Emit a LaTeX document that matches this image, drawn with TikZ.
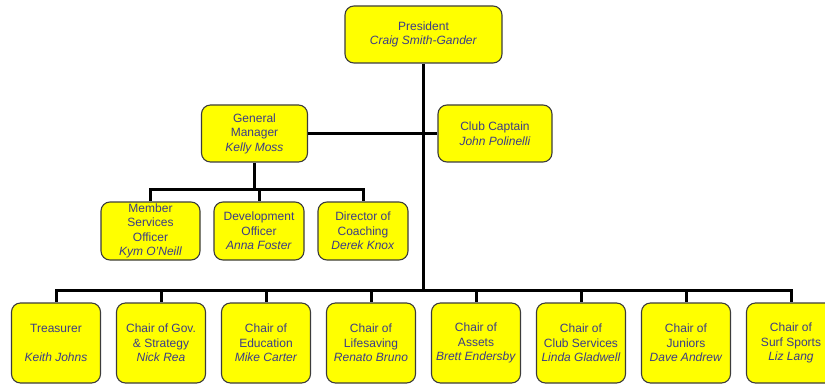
\documentclass[tikz,border=0pt]{standalone}
\usepackage{fontspec}
\setmainfont{Liberation Sans}
\definecolor{txt}{RGB}{60,60,135}
\definecolor{boxfill}{RGB}{255,255,0}
\definecolor{boxline}{RGB}{60,60,60}
\tikzset{
  orgbox/.style={draw=boxline, line width=1.1pt, fill=boxfill, rounded corners=9pt,
    align=center, text=txt, inner sep=0pt,
    font=\fontsize{12pt}{14.5pt}\selectfont},
  conn/.style={line width=3pt, black}
}
\begin{document}
\begin{tikzpicture}[x=1pt,y=-1pt]
\useasboundingbox (0,0) rectangle (825,385);
% nodes
\node[orgbox, minimum width=157pt, minimum height=57pt] (pres) at (423.5,34.5) {President\\\textit{Craig Smith-Gander}};
\node[orgbox, minimum width=106pt, minimum height=57pt] (gm) at (254.5,133.5) {General\\Manager\\\textit{Kelly Moss}};
\node[orgbox, minimum width=114pt, minimum height=57pt] (cc) at (495,133.5) {Club Captain\\\textit{John Polinelli}};
\node[orgbox, minimum width=99pt, minimum height=58pt] (m1) at (150.5,231) {Member\\Services\\Officer\\\textit{Kym O'Neill}};
\node[orgbox, minimum width=90pt, minimum height=58pt] (m2) at (259,231) {Development\\Officer\\\textit{Anna Foster}};
\node[orgbox, minimum width=90pt, minimum height=58pt] (m3) at (363,231) {Director of\\Coaching\\\textit{Derek Knox}};
\tikzset{bot/.style={orgbox, minimum width=89pt, minimum height=80pt}}
\node[bot] (b1) at (56,343) {Treasurer\\\mbox{}\\\textit{Keith Johns}};
\node[bot] (b2) at (161,343) {Chair of Gov.\\\& Strategy\\\textit{Nick Rea}};
\node[bot] (b3) at (266,343) {Chair of\\Education\\\textit{Mike Carter}};
\node[bot] (b4) at (371,343) {Chair of\\Lifesaving\\\textit{Renato Bruno}};
\node[bot] (b5) at (476,343) {Chair of\\Assets\\\textit{Brett Endersby}};
\node[bot] (b6) at (581,343) {Chair of\\Club Services\\\textit{Linda Gladwell}};
\node[bot] (b7) at (686,343) {Chair of\\Juniors\\\textit{Dave Andrew}};
\node[bot] (b8) at (791,343) {Chair of\\Surf Sports\\\textit{Liz Lang}};
% connectors
\coordinate (jb) at (423.5,290);
\coordinate (jm) at (254.5,190);
\draw[conn] (pres.south) -- (jb);
\draw[conn] (gm.east) -- (cc.west);
\draw[conn] (gm.south) -- (jm);
\foreach \k in {1,2,3} \draw[conn] (jm) -| (m\k.north);
\foreach \k in {1,...,8} \draw[conn] (jb) -| (b\k.north);
\end{tikzpicture}
\end{document}
